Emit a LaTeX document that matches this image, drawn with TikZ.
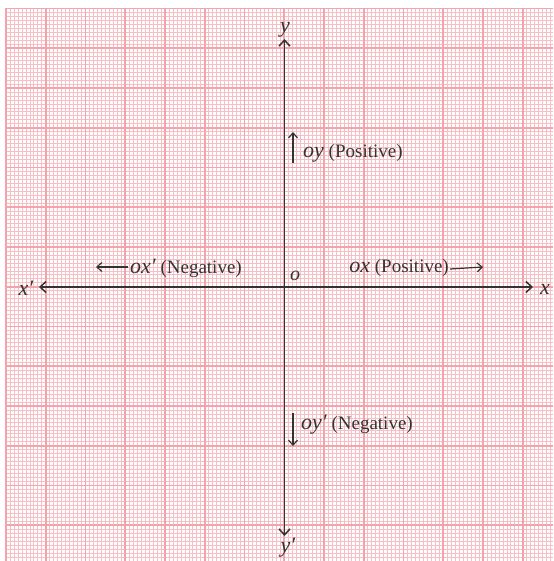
\documentclass[tikz,border=0pt]{standalone}
\usepackage{fontspec}
\setmainfont{Liberation Serif}
\usetikzlibrary{arrows.meta}
\definecolor{gridmajor}{HTML}{F4A3AA}
\definecolor{gridminor}{HTML}{F7BFC4}
\definecolor{axis}{HTML}{333333}
\tikzset{
  minorline/.style={draw=gridminor, line width=0.7pt},
  majorline/.style={draw=gridmajor, line width=1.9pt},
  axisline/.style={draw=axis, line width=1.5pt, {Straight Barb[length=6pt,width=11pt,line width=1.5pt]}-{Straight Barb[length=6pt,width=11pt,line width=1.5pt]}},
  smallarrow/.style={draw=axis, line width=1.2pt, -{Straight Barb[length=5pt,width=9pt,line width=1.2pt]}},
  lbl/.style={font=\fontsize{19}{22}\selectfont, inner sep=0pt, text=axis},
  axlbl/.style={font=\fontsize{22}{24}\selectfont\itshape, inner sep=0pt, text=axis}
}
\begin{document}
\begin{tikzpicture}[x=1pt,y=-1pt]
\useasboundingbox (0,0) rectangle (553,561);
\fill[white] (0,0) rectangle (553,561);
% grid
\foreach \i in {0,...,137} \draw[minorline] ({6+\i*3.975},8.5) -- ({6+\i*3.975},561);
\foreach \j in {0,...,139} \draw[minorline] (6,{8.5+\j*3.975}) -- (553,{8.5+\j*3.975});
\foreach \i in {0,...,13} \draw[majorline] ({6+\i*39.75},8.5) -- ({6+\i*39.75},561);
\foreach \j in {0,...,13} \draw[majorline] (6,{8.5+\j*39.75}) -- (553,{8.5+\j*39.75});
% axes
\coordinate (L) at (39,287);
\coordinate (R) at (533,287);
\coordinate (T) at (284.5,39);
\coordinate (B) at (284.5,536);
\draw[axisline] (L) -- (R);
\draw[axisline] (B) -- (T);
% axis labels
\node[axlbl] (xl) at (545,289) {x};
\node[axlbl] (xpl) at (26,288) {x′};
\node[axlbl] (yl) at (285,30) {y};
\node[axlbl] (ypl) at (288,548) {y′};
\node[axlbl, font=\fontsize{20}{22}\selectfont\itshape] (o) at (295,276) {o};
% ox' negative
\node[lbl, anchor=west] (negx) at (130,268) {{\fontsize{22}{24}\selectfont\itshape ox′} (Negative)};
\coordinate (negxend) at (96,267);
\draw[smallarrow] (negx.west) ++(-2,-1) -- (negxend);
% ox positive
\node[lbl, anchor=east] (posx) at (449,268) {{\fontsize{22}{24}\selectfont\itshape ox} (Positive)};
\coordinate (posxend) at (483,267);
\draw[smallarrow] ([yshift=-1]posx.east) ++(1,0) -- (posxend);
% oy positive
\node[lbl, anchor=west] (posy) at (303,153) {{\fontsize{22}{24}\selectfont\itshape oy} (Positive)};
\coordinate (posyS) at (293,163);
\coordinate (posyE) at (293,132);
\draw[smallarrow] (posyS) -- (posyE);
% oy' negative
\node[lbl, anchor=west] (negy) at (301,425) {{\fontsize{22}{24}\selectfont\itshape oy′} (Negative)};
\coordinate (negyS) at (293,413);
\coordinate (negyE) at (293,446);
\draw[smallarrow] (negyS) -- (negyE);
\end{tikzpicture}
\end{document}
